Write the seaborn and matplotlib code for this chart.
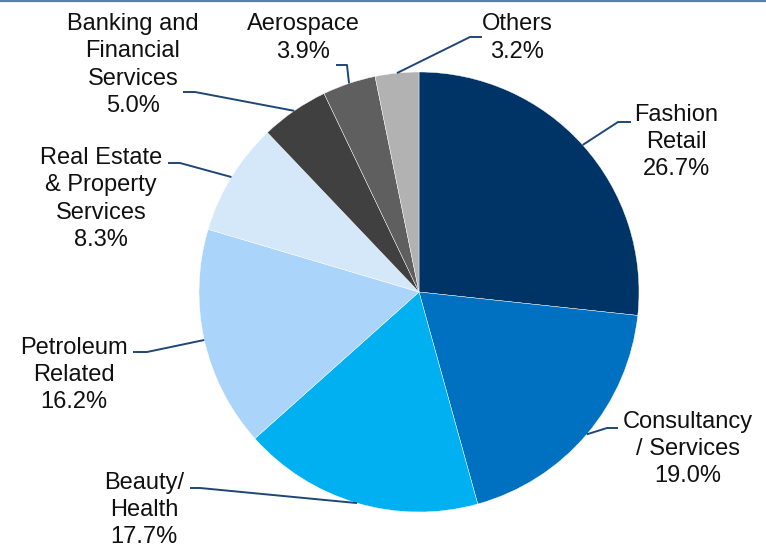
import matplotlib
matplotlib.use("Agg")
import matplotlib.pyplot as plt
from matplotlib.lines import Line2D
import numpy as np
import seaborn as sns

# Industry mix
categories = ["Fashion\nRetail", "Consultancy\n/ Services", "Beauty/\nHealth",
              "Petroleum\nRelated", "Real Estate\n& Property\nServices",
              "Banking and\nFinancial\nServices", "Aerospace", "Others"]
shares = [26.7, 19.0, 17.7, 16.2, 8.3, 5.0, 3.9, 3.2]
colors = ["#003366", "#0070C0", "#00B0F0", "#ABD4FB", "#D4E8FA",
          "#404040", "#5F5F5F", "#B2B2B2"]

sns.set_theme(style="white")
plt.rcParams["font.family"] = ["Liberation Sans", "DejaVu Sans"]

W, H, DPI = 766, 548, 100
fig = plt.figure(figsize=(W / DPI, H / DPI), dpi=DPI)
ax = fig.add_axes([0, 0, 1, 1])

# pie centre / radius in pixels, axes in units of the radius
cx, cy, R = 419, 292, 220

def px(x, y):
    return (x - cx) / R, (cy - y) / R

wedges, _ = ax.pie(shares, colors=colors, startangle=90, counterclock=False,
                   radius=1.0, center=(0, 0), frame=True,
                   wedgeprops=dict(edgecolor="white", linewidth=0.3))
ax.set_xlim((0 - cx) / R, (W - cx) / R)
ax.set_ylim((cy - H) / R, (cy - 0) / R)
ax.set_aspect("equal")
ax.axis("off")

# label layout: elbow point, line end, text centre (pixels)
layout = [
    ((618, 122), (631, 122), (676, 142)),
    ((607, 428), (618, 428), (688, 449)),
    ((200, 488), (190, 488), (144, 510)),
    ((147, 352), (133, 352), (74, 375)),
    ((180, 163), (168, 163), (101, 199)),
    ((195, 92), (183, 92), (133, 65)),
    ((347, 65), (336, 65), (303, 38)),
    ((470, 37), (482, 37), (517, 38)),
]

line_color = "#1F4776"
for w, lab, val, (elbow, end, tc) in zip(wedges, categories, shares, layout):
    mid = np.deg2rad((w.theta1 + w.theta2) / 2)
    ax_pt = (np.cos(mid), np.sin(mid))
    ex, ey = px(*elbow)
    nx, ny = px(*end)
    ax.plot([ax_pt[0], ex, nx], [ax_pt[1], ey, ny], color=line_color,
            lw=1.4, solid_capstyle="butt", zorder=3)
    tx, ty = px(*tc)
    ax.text(tx, ty, f"{lab}\n{val:.1f}%", ha="center", va="center",
            multialignment="center", fontsize=17, color="#111111",
            linespacing=1.3)

# thin rule along the top edge
fig.add_artist(Line2D([0, 1], [0.998, 0.998], transform=fig.transFigure,
                      color="#5B7DB1", lw=1.6))

fig.savefig("out.png", dpi=DPI)
